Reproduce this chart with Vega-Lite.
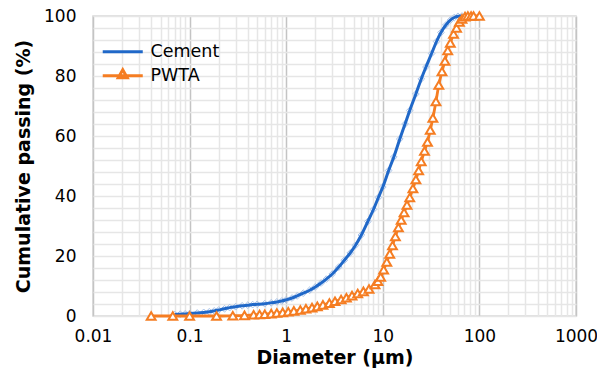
{
  "$schema": "https://vega.github.io/schema/vega-lite/v6.json",
  "width": 483,
  "height": 300,
  "autosize": {"type": "none"},
  "padding": {"left": 93, "top": 16, "right": 21, "bottom": 57},
  "background": "white",
  "config": {
    "view": {"stroke": "#d6d6d6", "strokeWidth": 1.5},
    "font": "DejaVu Sans",
    "axis": {
      "labelFont": "DejaVu Sans",
      "labelFontSize": 17,
      "labelColor": "#000000",
      "titleFont": "DejaVu Sans",
      "titleFontSize": 19,
      "titleFontWeight": "bold",
      "titleColor": "#000000",
      "ticks": false,
      "domain": false,
      "gridWidth": 1.5
    }
  },
  "datasets": {
    "cement": [
      {"series": "Cement", "d": 0.07, "p": 0.5},
      {"series": "Cement", "d": 0.08, "p": 0.6},
      {"series": "Cement", "d": 0.09, "p": 0.7},
      {"series": "Cement", "d": 0.1, "p": 0.8},
      {"series": "Cement", "d": 0.12, "p": 1.0},
      {"series": "Cement", "d": 0.14, "p": 1.2},
      {"series": "Cement", "d": 0.16, "p": 1.4},
      {"series": "Cement", "d": 0.18, "p": 1.7},
      {"series": "Cement", "d": 0.2, "p": 2.0},
      {"series": "Cement", "d": 0.23, "p": 2.4},
      {"series": "Cement", "d": 0.26, "p": 2.8},
      {"series": "Cement", "d": 0.3, "p": 3.1},
      {"series": "Cement", "d": 0.35, "p": 3.4},
      {"series": "Cement", "d": 0.4, "p": 3.6},
      {"series": "Cement", "d": 0.45, "p": 3.8},
      {"series": "Cement", "d": 0.5, "p": 3.9},
      {"series": "Cement", "d": 0.6, "p": 4.1},
      {"series": "Cement", "d": 0.7, "p": 4.4},
      {"series": "Cement", "d": 0.8, "p": 4.7},
      {"series": "Cement", "d": 0.9, "p": 5.0},
      {"series": "Cement", "d": 1.0, "p": 5.4},
      {"series": "Cement", "d": 1.15, "p": 6.0},
      {"series": "Cement", "d": 1.3, "p": 6.7},
      {"series": "Cement", "d": 1.5, "p": 7.6},
      {"series": "Cement", "d": 1.75, "p": 8.6},
      {"series": "Cement", "d": 2.0, "p": 9.7},
      {"series": "Cement", "d": 2.3, "p": 11.0},
      {"series": "Cement", "d": 2.6, "p": 12.3},
      {"series": "Cement", "d": 3.0, "p": 14.0},
      {"series": "Cement", "d": 3.5, "p": 16.3},
      {"series": "Cement", "d": 4.0, "p": 18.6},
      {"series": "Cement", "d": 4.6, "p": 21.0},
      {"series": "Cement", "d": 5.2, "p": 23.5},
      {"series": "Cement", "d": 6.0, "p": 27.0},
      {"series": "Cement", "d": 7.0, "p": 31.5},
      {"series": "Cement", "d": 8.0, "p": 35.5},
      {"series": "Cement", "d": 9.0, "p": 39.5},
      {"series": "Cement", "d": 10, "p": 43.0},
      {"series": "Cement", "d": 11.5, "p": 48.5},
      {"series": "Cement", "d": 13, "p": 53},
      {"series": "Cement", "d": 15, "p": 59},
      {"series": "Cement", "d": 17, "p": 64},
      {"series": "Cement", "d": 19, "p": 68.5},
      {"series": "Cement", "d": 22, "p": 74},
      {"series": "Cement", "d": 25, "p": 79},
      {"series": "Cement", "d": 28, "p": 83},
      {"series": "Cement", "d": 32, "p": 87.5},
      {"series": "Cement", "d": 36, "p": 91.5},
      {"series": "Cement", "d": 40, "p": 94.5},
      {"series": "Cement", "d": 45, "p": 97},
      {"series": "Cement", "d": 50, "p": 98.6},
      {"series": "Cement", "d": 55, "p": 99.5},
      {"series": "Cement", "d": 60, "p": 99.9},
      {"series": "Cement", "d": 66, "p": 100},
      {"series": "Cement", "d": 72, "p": 100}
    ],
    "pwta": [
      {"series": "PWTA", "d": 0.04, "p": 0},
      {"series": "PWTA", "d": 0.067, "p": 0},
      {"series": "PWTA", "d": 0.1, "p": 0},
      {"series": "PWTA", "d": 0.19, "p": 0},
      {"series": "PWTA", "d": 0.28, "p": 0.1},
      {"series": "PWTA", "d": 0.37, "p": 0.2},
      {"series": "PWTA", "d": 0.46, "p": 0.4},
      {"series": "PWTA", "d": 0.53, "p": 0.5},
      {"series": "PWTA", "d": 0.6, "p": 0.6},
      {"series": "PWTA", "d": 0.7, "p": 0.8},
      {"series": "PWTA", "d": 0.8, "p": 1.0},
      {"series": "PWTA", "d": 0.92, "p": 1.2},
      {"series": "PWTA", "d": 1.05, "p": 1.4},
      {"series": "PWTA", "d": 1.2, "p": 1.7},
      {"series": "PWTA", "d": 1.4, "p": 2.0},
      {"series": "PWTA", "d": 1.6, "p": 2.4},
      {"series": "PWTA", "d": 1.85, "p": 2.8},
      {"series": "PWTA", "d": 2.1, "p": 3.2},
      {"series": "PWTA", "d": 2.4, "p": 3.7},
      {"series": "PWTA", "d": 2.8, "p": 4.3},
      {"series": "PWTA", "d": 3.2, "p": 4.9},
      {"series": "PWTA", "d": 3.7, "p": 5.5},
      {"series": "PWTA", "d": 4.2, "p": 6.1},
      {"series": "PWTA", "d": 4.8, "p": 6.8},
      {"series": "PWTA", "d": 5.5, "p": 7.5},
      {"series": "PWTA", "d": 6.3, "p": 8.2},
      {"series": "PWTA", "d": 7.2, "p": 9.0},
      {"series": "PWTA", "d": 8.3, "p": 10.5},
      {"series": "PWTA", "d": 8.9, "p": 11.6},
      {"series": "PWTA", "d": 9.5, "p": 13},
      {"series": "PWTA", "d": 10.2, "p": 15.4},
      {"series": "PWTA", "d": 11, "p": 18},
      {"series": "PWTA", "d": 11.8, "p": 20.7},
      {"series": "PWTA", "d": 12.6, "p": 23.5},
      {"series": "PWTA", "d": 13.5, "p": 26.5},
      {"series": "PWTA", "d": 14.5, "p": 29.5},
      {"series": "PWTA", "d": 15.5, "p": 32},
      {"series": "PWTA", "d": 16.6, "p": 34.5},
      {"series": "PWTA", "d": 17.8, "p": 37},
      {"series": "PWTA", "d": 19, "p": 39.5},
      {"series": "PWTA", "d": 20.5, "p": 42.5},
      {"series": "PWTA", "d": 22, "p": 45.5},
      {"series": "PWTA", "d": 23.5, "p": 48.5},
      {"series": "PWTA", "d": 25, "p": 51.5},
      {"series": "PWTA", "d": 27, "p": 55},
      {"series": "PWTA", "d": 29, "p": 58},
      {"series": "PWTA", "d": 31, "p": 62},
      {"series": "PWTA", "d": 33, "p": 66},
      {"series": "PWTA", "d": 35.5, "p": 71.5},
      {"series": "PWTA", "d": 38, "p": 77},
      {"series": "PWTA", "d": 41, "p": 81.5},
      {"series": "PWTA", "d": 44, "p": 85},
      {"series": "PWTA", "d": 47, "p": 88.5},
      {"series": "PWTA", "d": 50, "p": 91},
      {"series": "PWTA", "d": 54, "p": 94},
      {"series": "PWTA", "d": 58, "p": 96},
      {"series": "PWTA", "d": 62, "p": 98},
      {"series": "PWTA", "d": 66, "p": 99},
      {"series": "PWTA", "d": 71, "p": 99.8},
      {"series": "PWTA", "d": 76, "p": 100},
      {"series": "PWTA", "d": 82, "p": 100},
      {"series": "PWTA", "d": 87, "p": 100},
      {"series": "PWTA", "d": 100, "p": 100}
    ]
  },
  "encoding": {
    "x": {
      "field": "d",
      "type": "quantitative",
      "scale": {"type": "log", "domain": [0.01, 1000], "nice": false},
      "axis": {
        "title": "Diameter (µm)",
        "values": [0.01,0.02,0.03,0.04,0.05,0.06,0.07,0.08,0.09,0.1,0.2,0.3,0.4,0.5,0.6,0.7,0.8,0.9,1,2,3,4,5,6,7,8,9,10,20,30,40,50,60,70,80,90,100,200,300,400,500,600,700,800,900,1000],
        "format": "~g",
        "labelExpr": "abs(log(datum.value)/LN10 - round(log(datum.value)/LN10)) < 0.001 ? datum.label : ''",
        "gridColor": {"condition": {"test": "abs(log(datum.value)/LN10 - round(log(datum.value)/LN10)) < 0.001", "value": "#c4c4c4"}, "value": "#e6e6e6"},
        "labelPadding": 12,
        "titlePadding": 4,
        "labelFlush": false,
        "labelOverlap": false
      }
    },
    "y": {
      "field": "p",
      "type": "quantitative",
      "scale": {"domain": [0, 100], "nice": false},
      "axis": {
        "title": "Cumulative passing (%)",
        "values": [0,4,8,12,16,20,24,28,32,36,40,44,48,52,56,60,64,68,72,76,80,84,88,92,96,100],
        "labelExpr": "datum.value % 20 === 0 ? datum.label : ''",
        "gridColor": "#e6e6e6",
        "labelPadding": 17,
        "titlePadding": 10,
        "labelOverlap": false,
        "labelFlush": false
      }
    }
  },
  "layer": [
    {
      "data": {"name": "cement"},
      "mark": {"type": "point", "shape": "diamond", "filled": false, "size": 45, "stroke": "#9fbde8", "strokeWidth": 1, "opacity": 0.9}
    },
    {
      "data": {"name": "cement"},
      "mark": {"type": "line", "interpolate": "monotone", "strokeWidth": 3, "color": "#2068c8"}
    },
    {
      "data": {"name": "pwta"},
      "mark": {"type": "line", "interpolate": "monotone", "strokeWidth": 2.8, "color": "#f57d22"}
    },
    {
      "data": {"name": "pwta"},
      "mark": {"type": "point", "shape": "triangle-up", "filled": false, "fill": "white", "fillOpacity": 1, "size": 78, "stroke": "#f57d22", "strokeWidth": 2, "opacity": 1}
    },
    {
      "data": {"values": [{"series": "Cement"}, {"series": "PWTA"}]},
      "mark": {"type": "line", "strokeWidth": 3},
      "encoding": {
        "x": {"datum": 1000},
        "y": {"datum": 100},
        "color": {
          "field": "series",
          "type": "nominal",
          "scale": {"domain": ["Cement", "PWTA"], "range": ["#2068c8", "#f57d22"]},
          "legend": {
            "orient": "none",
            "legendX": 21,
            "legendY": 27,
            "title": null,
            "padding": 0,
            "symbolSize": 178,
            "symbolStrokeWidth": 3,
            "labelOffset": 19,
            "rowPadding": 2,
            "labelFont": "DejaVu Sans",
            "labelFontSize": 17.5,
            "labelColor": "#000000",
            "encode": {
              "symbols": {
                "update": {
                  "shape": {"signal": "datum.value === 'PWTA' ? 'M-3,0H3M-0.675,0.3L0,-0.9L0.675,0.3Z' : 'M-3,0H3'"},
                  "fill": {"value": "white"}
                }
              }
            }
          }
        }
      }
    }
  ]
}
